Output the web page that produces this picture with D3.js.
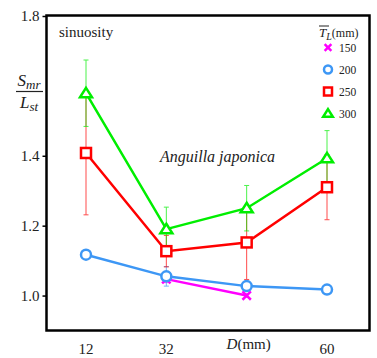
<!DOCTYPE html>
<html><head><meta charset="utf-8">
<script src="https://cdn.jsdelivr.net/npm/d3@7"></script>
<style>body{margin:0;background:#fff}svg{display:block}</style>
</head><body>
<svg id="c" width="377" height="358"></svg>
<script>
const categories = ["12","32","D","60"];
const tickLabels = ["12","32","D(mm)","60"];
const yTicks = [1.0, 1.2, 1.4, 1.8];
const legendLabels = ["150","200","250","300"];
const s150 = [null, 1.047, 1.0, null];
const e150 = [null, 0.01, 0.005, null];
const s200 = [1.117, 1.055, 1.027, 1.017];
const e200 = [0, 0.028, 0.004, 0];
const s250 = [1.408, 1.127, 1.152, 1.31];
const e250 = [0.177, 0.045, 0.106, 0.093];
const s300 = [1.579, 1.19, 1.25, 1.393];
const e300 = [0.095, 0.063, 0.065, 0.079];

const FONT = "'Liberation Serif', 'DejaVu Serif', 'Noto Serif', Times, serif";
const series = [
  {name:"150", v:s150, e:e150, color:"#ff00ff", marker:"x"},
  {name:"200", v:s200, e:e200, color:"#3d97f5", marker:"o"},
  {name:"250", v:s250, e:e250, color:"#ff0000", marker:"s"},
  {name:"300", v:s300, e:e300, color:"#00ee00", marker:"t"}
];

const svg = d3.select("#c").attr("font-family", FONT);
const L=46.5, R=369.5, T=15.5, B=330.5;
const x = d3.scalePoint().domain(categories).range([86, 327]);
const y = d3.scaleLinear().domain([0.9, 1.8]).range([B, 16]);

svg.append("rect").attr("x",L).attr("y",T).attr("width",R-L).attr("height",B-T)
  .attr("fill","none").attr("stroke","#000").attr("stroke-width",2.5);

const yAx = svg.append("g").attr("transform",`translate(${L},0)`)
  .call(d3.axisLeft(y).tickValues(yTicks).tickSize(4).tickPadding(3).tickFormat(d3.format(".1f")));
yAx.attr("font-family", FONT);
yAx.select(".domain").remove();
yAx.selectAll("line").attr("stroke","#000").attr("stroke-width",1.5);
yAx.selectAll("text").attr("font-size",15).attr("fill","#222").attr("font-family",FONT);

const xl = svg.append("g");
categories.forEach((c,i)=>{
  const t = xl.append("text").attr("x", x(c)+(i===2?2:0)).attr("y", i===2?349:354)
    .attr("text-anchor","middle").attr("font-size",15).attr("fill","#222").attr("font-family",FONT);
  if (tickLabels[i].startsWith("D(")) {
    t.append("tspan").attr("font-style","italic").text("D");
    t.append("tspan").text("(mm)");
  } else t.text(tickLabels[i]);
});

series.forEach(s=>{
  const g = svg.append("g").attr("stroke", s.color).attr("stroke-width",1).attr("opacity",0.7);
  s.v.forEach((v,i)=>{
    if (v==null || !s.e[i]) return;
    const cx = x(categories[i]), y1 = y(v + s.e[i]), y2 = y(v - s.e[i]);
    g.append("line").attr("x1",cx).attr("x2",cx).attr("y1",y1).attr("y2",y2);
    g.append("line").attr("x1",cx-2.5).attr("x2",cx+2.5).attr("y1",y1).attr("y2",y1);
    g.append("line").attr("x1",cx-2.5).attr("x2",cx+2.5).attr("y1",y2).attr("y2",y2);
  });
});

const line = d3.line().defined(d=>d.v!=null).x(d=>x(d.c)).y(d=>y(d.v));
series.forEach(s=>{
  svg.append("path").datum(s.v.map((v,i)=>({c:categories[i], v})))
    .attr("d", line).attr("fill","none").attr("stroke", s.color).attr("stroke-width",2.5);
});

function marker(g, type, cx, cy, color, size) {
  if (type==="o") g.append("circle").attr("cx",cx).attr("cy",cy).attr("r",size*0.5)
      .attr("fill","#fff").attr("stroke",color).attr("stroke-width",2.5);
  else if (type==="s") g.append("rect").attr("x",cx-size/2).attr("y",cy-size/2).attr("width",size).attr("height",size)
      .attr("fill","#fff").attr("stroke",color).attr("stroke-width",2.5);
  else if (type==="t") { const h=size*0.9, w=size*0.6;
    g.append("path").attr("d",`M${cx},${cy-h*0.6}L${cx+w},${cy+h*0.45}L${cx-w},${cy+h*0.45}Z`)
      .attr("fill","#fff").attr("stroke",color).attr("stroke-width",2.5); }
  else { const a=size*0.42;
    g.append("path").attr("d",`M${cx-a},${cy-a}L${cx+a},${cy+a}M${cx-a},${cy+a}L${cx+a},${cy-a}`)
      .attr("stroke",color).attr("stroke-width",2.5); }
}
series.forEach(s=>{
  const g = svg.append("g");
  s.v.forEach((v,i)=>{ if (v!=null) marker(g, s.marker, x(categories[i]), y(v), s.color, 10); });
});

svg.append("text").attr("x",59).attr("y",37).attr("font-size",15).attr("fill","#222").attr("font-family",FONT).text("sinuosity");
svg.append("text").attr("x",160).attr("y",162).attr("font-size",16).attr("font-style","italic").attr("fill","#222").attr("font-family",FONT).text("Anguilla japonica");

const yl = svg.append("g").attr("fill","#222").attr("font-style","italic").attr("font-family",FONT);
const t1 = yl.append("text").attr("x",29).attr("y",86).attr("text-anchor","middle").attr("font-size",17);
t1.append("tspan").text("S");
t1.append("tspan").attr("font-size",13).attr("dy",3).text("mr");
svg.append("line").attr("x1",16).attr("x2",43).attr("y1",91.5).attr("y2",91.5).attr("stroke","#222").attr("stroke-width",1.2);
const t2 = yl.append("text").attr("x",29).attr("y",108).attr("text-anchor","middle").attr("font-size",17);
t2.append("tspan").text("L");
t2.append("tspan").attr("font-size",13).attr("dy",3).text("st");

const lg = svg.append("g").attr("font-family",FONT);
const lt = lg.append("text").attr("x",319).attr("y",37).attr("font-size",12).attr("fill","#222");
lt.append("tspan").attr("font-style","italic").attr("font-size",13).text("T");
lt.append("tspan").attr("font-style","italic").attr("font-size",10).attr("dy",3).text("L");
lt.append("tspan").attr("dy",-3).text("(mm)");
lg.append("line").attr("x1",319).attr("x2",329).attr("y1",26).attr("y2",26).attr("stroke","#222").attr("stroke-width",1);
series.forEach((s,i)=>{
  const cy = 47.5 + i*22;
  marker(lg, s.marker, 328, cy, s.color, 8);
  lg.append("text").attr("x",339).attr("y",cy+4).attr("font-size",11.5).attr("fill","#222").text(legendLabels[i]);
});
</script>
</body></html>
